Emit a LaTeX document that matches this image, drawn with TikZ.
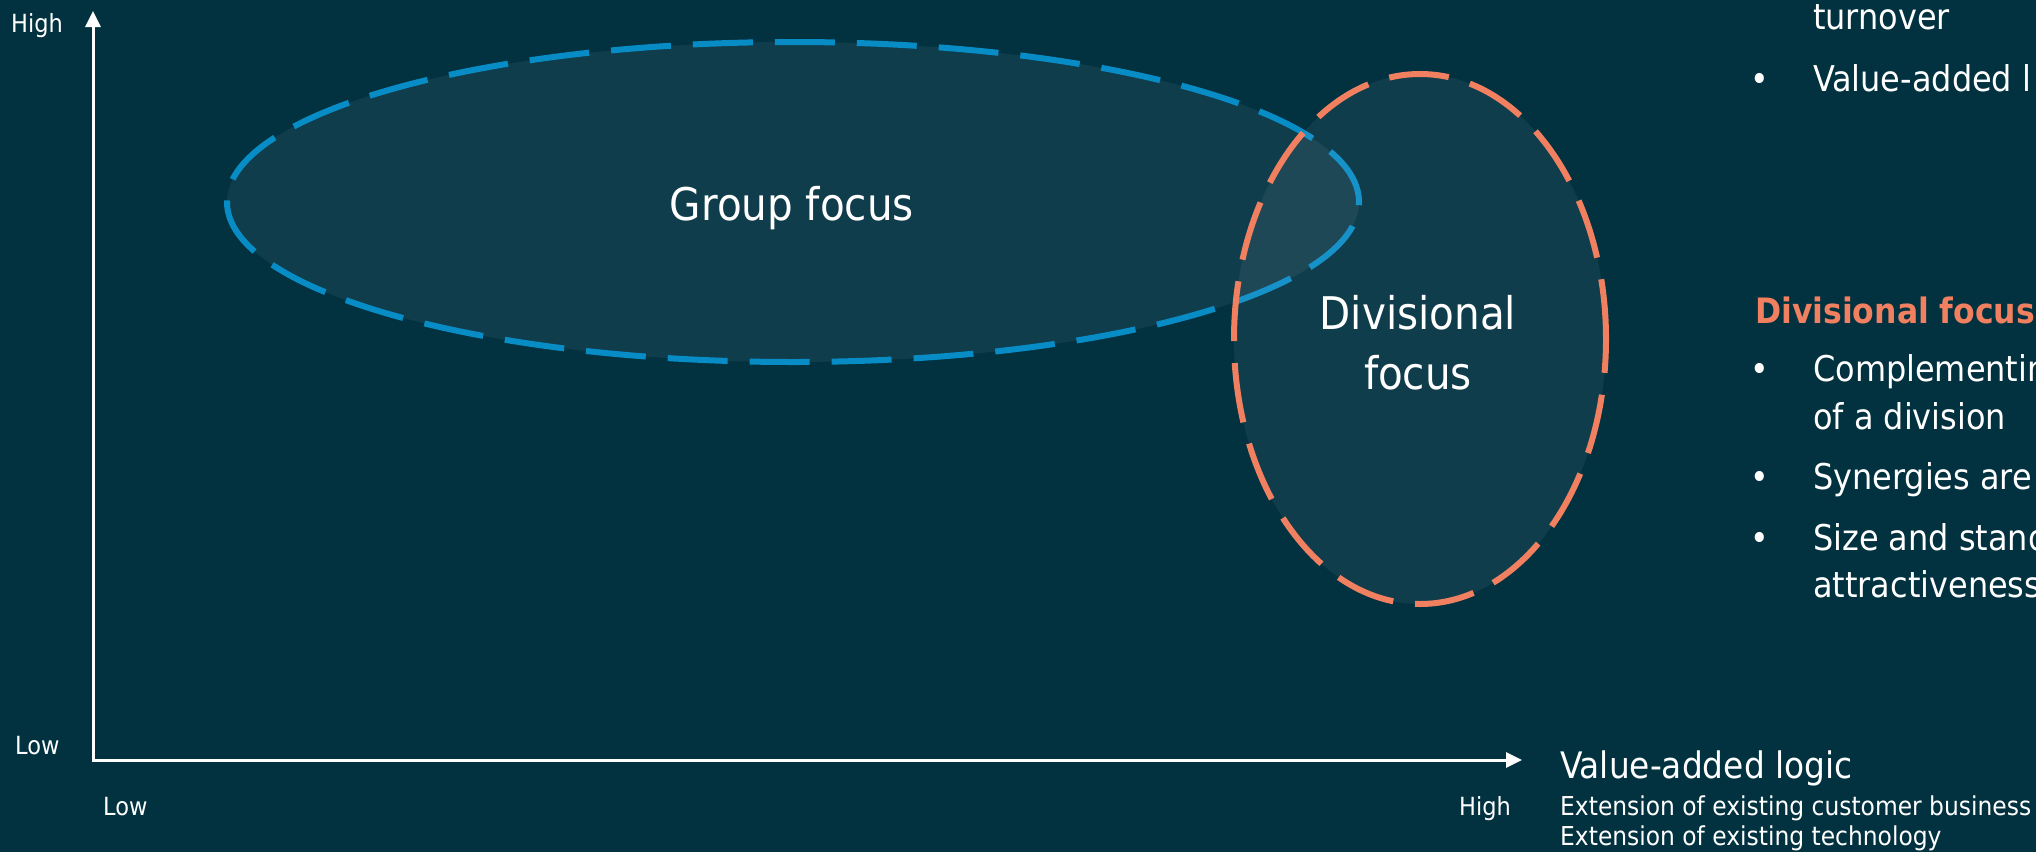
\documentclass[tikz,border=0pt]{standalone}
\usepackage{fontspec}
\setmainfont{DejaVu Sans Condensed}
\usetikzlibrary{arrows.meta,shapes.geometric}
\definecolor{bgteal}{RGB}{2,49,64}
\definecolor{groupblue}{RGB}{8,140,198}
\definecolor{divorange}{RGB}{240,128,96}

\begin{document}
\begin{tikzpicture}[x=1pt,y=-1pt,
  axisline/.style={draw=white,line width=3pt,{Triangle[length=16pt,width=15pt]}-{Triangle[length=16pt,width=15pt]}},
  axislabel/.style={text=white,inner sep=0pt,anchor=base west,font=\fontsize{25}{30}\selectfont},
  focusring/.style={ellipse,line width=6pt,dash pattern=on 60pt off 22pt,fill=white,fill opacity=0.06,inner sep=0pt,outer sep=0pt},
  focuslabel/.style={text=white,inner sep=0pt,anchor=base,font=\fontsize{45}{54}\selectfont},
  sidetext/.style={text=white,inner sep=0pt,anchor=base west,font=\fontsize{35.5}{42}\selectfont},
  bulletmark/.style={text=white,inner sep=0pt,anchor=base,font=\fontsize{35}{42}\selectfont}]
\clip (0,0) rectangle (2036,852);
\fill[bgteal] (0,0) rectangle (2036,852);

% the two focus areas
\node[focusring,draw=groupblue,minimum width=1132pt,minimum height=320pt] (groupring) at (793,202) {};
\node[focusring,draw=divorange,minimum width=372pt,minimum height=530pt] (divring) at (1420,339) {};
\node[focuslabel] (grouptext) at (792,220) {Group focus};
\node[focuslabel] (divtext) at (1418,329) {Divisional};
\node[focuslabel] (divtext2) at (1418,389) {focus};

% axes
\coordinate (ytip) at (93,11);
\coordinate (origin) at (93,760);
\coordinate (xtip) at (1522,760);
\draw[axisline] (ytip) -- (origin) -- (xtip);
\node[axislabel] (yhigh) at (11,32) {High};
\node[axislabel] (ylow) at (15,754) {Low};
\node[axislabel] (xlow) at (103,815) {Low};
\node[axislabel] (xhigh) at (1459,815) {High};
\node[axislabel,font=\fontsize{36.5}{43}\selectfont] (xtitle) at (1560,778) {Value-added logic};
\node[axislabel,font=\fontsize{26}{32}\selectfont] (xsub1) at (1560,815) {Extension of existing customer business};
\node[axislabel,font=\fontsize{26}{32}\selectfont] (xsub2) at (1560,845) {Extension of existing technology};

% text column on the right
\node[sidetext] (turnover) at (1813,29) {turnover};
\node[sidetext] (valueadd) at (1813,91) {Value-added l};
\node[sidetext,text=divorange,font=\bfseries\fontsize{35}{42}\selectfont] (divhead) at (1755,323) {Divisional focus};
\node[sidetext] (compl) at (1813,381) {Complementin};
\node[sidetext] (compl2) at (1813,429) {of a division};
\node[sidetext] (synerg) at (1813,489) {Synergies are};
\node[sidetext] (sizest) at (1813,550) {Size and stand};
\node[sidetext] (sizest2) at (1813,597) {attractiveness};
\foreach \yb [count=\i] in {91,381,489,550}
  \node[bulletmark] (bullet\i) at (1760,\yb) {\textbullet};
\end{tikzpicture}
\end{document}
